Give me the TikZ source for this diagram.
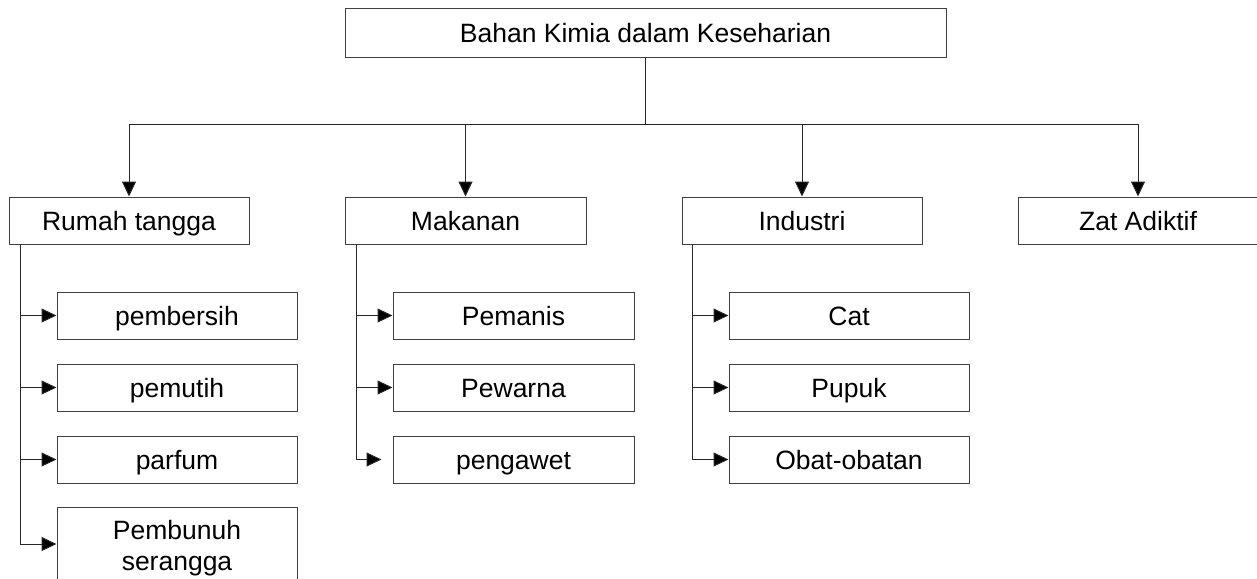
\documentclass[tikz,border=0pt]{standalone}
\usepackage{fontspec}
\setmainfont{Liberation Sans}
\usetikzlibrary{arrows.meta,positioning}
\begin{document}
\begin{tikzpicture}[x=1pt,y=-1pt,
  box/.style={draw=black!75,line width=1pt,rectangle,minimum width=240pt,minimum height=47pt,inner sep=0pt,align=center,font=\fontsize{26.5}{31}\selectfont,fill=white,text height=19pt,text depth=0pt},
  box2/.style={box,text height=,text depth=},
  arr/.style={draw=black!85,line width=1pt,-{Triangle[length=15pt,width=14pt,fill=black]}},
  ln/.style={draw=black!85,line width=1pt}]
\useasboundingbox (0,0) rectangle (1257,578);
\clip (0,0) rectangle (1257,578);
\fill[white] (0,0) rectangle (1257,578);
% top
\node[box,minimum width=601pt,minimum height=49pt] (top) at (645.5,33.5) {Bahan Kimia dalam Keseharian};
\node[box] (rt) at (129,220.5) {Rumah tangga};
\node[box,minimum width=241pt] (mk) at (465.5,220.5) {Makanan};
\node[box] (in) at (802,220.5) {Industri};
\node[box] (za) at (1138,220.5) {Zat Adiktif};
% children
\node[box] (rt1) at (177,315.5) {pembersih};
\node[box] (rt2) at (177,387.5) {pemutih};
\node[box] (rt3) at (177,459.5) {parfum};
\node[box2,minimum height=82pt] (rt4) at (177,548) {Pembunuh\\serangga};
\node[box,minimum width=241pt] (mk1) at (513.5,315.5) {Pemanis};
\node[box,minimum width=241pt] (mk2) at (513.5,387.5) {Pewarna};
\node[box,minimum width=241pt] (mk3) at (513.5,459.5) {pengawet};
\node[box] (in1) at (849,315.5) {Cat};
\node[box] (in2) at (849,387.5) {Pupuk};
\node[box] (in3) at (849,459.5) {Obat-obatan};
% bus
\coordinate (bus) at (645.5,124);
\draw[ln] (top.south) -- (bus);
\draw[arr] (bus) -| (rt.north);
\draw[arr] (bus) -| (mk.north);
\draw[arr] (bus) -| (in.north);
\draw[arr] (bus) -| (za.north);
% side connectors
\foreach \c in {rt1,rt2,rt3}{\draw[arr] ([xshift=12pt]rt.south west) |- (\c.west);}
\draw[arr] ([xshift=12pt]rt.south west) |- ([yshift=4pt]rt4.west);
\draw[arr] ([xshift=12pt]mk.south west) |- (mk1.west);
\draw[arr] ([xshift=12pt]mk.south west) |- (mk2.west);
\draw[arr,shorten >=11pt] ([xshift=12pt]mk.south west) |- (mk3.west);
\foreach \c in {in1,in2,in3}{\draw[arr] ([xshift=11pt]in.south west) |- (\c.west);}
\end{tikzpicture}
\end{document}
